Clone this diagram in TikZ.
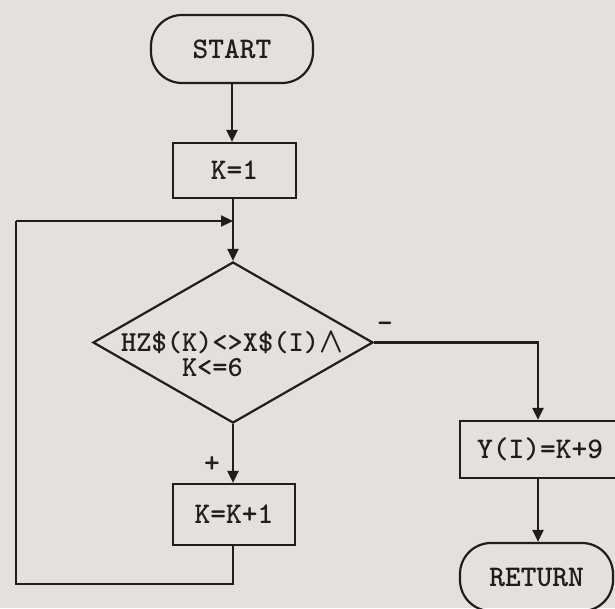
\documentclass[tikz,border=0pt]{standalone}
\usepackage{fontspec}
\usetikzlibrary{shapes.geometric,arrows.meta}
\definecolor{paper}{RGB}{228,225,220}
\definecolor{ink}{RGB}{30,30,30}
\tikzset{
  every node/.style={font=\ttfamily\bfseries\fontsize{30}{34}\selectfont, text=ink},
  line/.style={draw=ink, line width=2.2pt},
  arr/.style={line, -{Triangle[length=12pt,width=11pt]}},
  procbox/.style={line, rectangle, inner sep=0pt},
  term/.style={line, rectangle, rounded corners=31pt, inner sep=0pt},
  decide/.style={line, diamond, inner sep=0pt},
  sign/.style={font=\ttfamily\bfseries\fontsize{30}{34}\selectfont},
}
\begin{document}
\begin{tikzpicture}[x=1pt, y=1pt]
\useasboundingbox (0,0) rectangle (615,-608);
\fill[paper] (0,0) rectangle (615,-608);
\clip (0,0) rectangle (615,-608);

\node[term, minimum width=162pt, minimum height=68pt] (start) at (232,-49) {START};
\node[procbox, minimum width=123pt, minimum height=55pt] (k1) at (234.5,-170.5) {K=1};
\node[decide, minimum width=280pt, minimum height=161pt] (d) at (233,-342.5) {};
\node[align=left, inner sep=0pt, font=\ttfamily\bfseries\fontsize{29}{25}\selectfont] (t) at (232,-355)
  {HZ\$(K)<>X\$(I){\boldmath\raisebox{-1pt}{\scalebox{1.25}[1.45]{$\wedge$}}}\\\phantom{HZ\$(}K<=6};
\node[procbox, minimum width=122pt, minimum height=61pt] (kk) at (234,-514.5) {K=K+1};
\node[procbox, minimum width=160pt, minimum height=57pt] (y) at (540,-449.5) {Y(I)=K+9};
\node[term, minimum width=153pt, minimum height=68pt] (ret) at (536.5,-577) {RETURN};

\node[sign] (minus) at (385,-327) {-};
\node[sign] (plus) at (212,-464) {+};

\coordinate (c1) at (16,-584);
\coordinate (c2) at (16,-221);
\coordinate (m) at (233,-221);
\coordinate (xr) at (538,0);

\draw[arr] (start.south) -- (start.south |- k1.north);
\draw[arr] (k1.south -| d.north) -- (d.north);
\draw[arr] (d.south) -- (d.south |- kk.north);
\draw[arr] (d.east) -| (y.north -| xr);
\draw[arr] (y.south -| xr) -- (ret.north -| xr);
\draw[line] (kk.south -| d.south) |- (c1) -- (c2);
\draw[arr] (c2) -- (m);
\end{tikzpicture}
\end{document}
